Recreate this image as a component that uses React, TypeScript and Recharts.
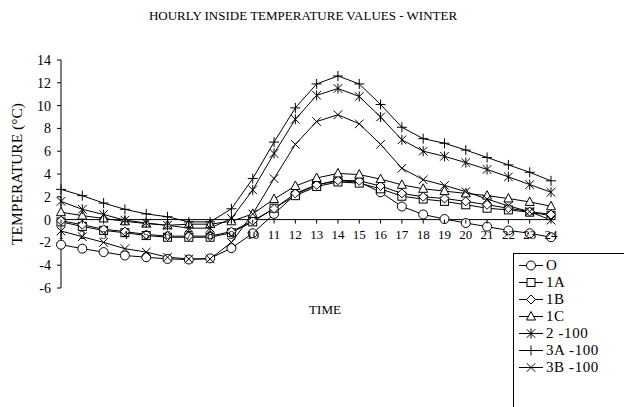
import React from 'react';
import { LineChart, Line, XAxis, YAxis, ReferenceLine, Legend } from 'recharts';

const hours = [1, 2, 3, 4, 5, 6, 7, 8, 9, 10, 11, 12, 13, 14, 15, 16, 17, 18, 19, 20, 21, 22, 23, 24];
const valuesO = [-2.2, -2.55, -2.85, -3.15, -3.3, -3.45, -3.5, -3.4, -2.5, -1.2, 0.5, 2.2, 3.05, 3.4, 3.3, 2.4, 1.15, 0.45, 0.05, -0.3, -0.62, -0.95, -1.2, -1.55];
const values1A = [-0.2, -0.6, -0.95, -1.15, -1.4, -1.55, -1.55, -1.55, -1.15, -0.2, 1.0, 2.1, 2.9, 3.3, 3.2, 2.7, 2.05, 1.8, 1.6, 1.3, 1.0, 0.85, 0.65, 0.35];
const values1B = [-0.1, -0.45, -0.85, -1.05, -1.3, -1.45, -1.45, -1.45, -1.05, -0.1, 0.95, 2.3, 3.05, 3.45, 3.4, 2.95, 2.3, 2.0, 1.85, 1.6, 1.3, 1.0, 0.7, 0.45];
const values1C = [0.65, 0.35, 0.1, -0.15, -0.35, -0.5, -0.4, -0.4, -0.15, 0.5, 1.8, 2.95, 3.65, 4.05, 3.95, 3.55, 3.05, 2.7, 2.5, 2.3, 2.1, 1.85, 1.55, 1.17];
const values2 = [1.6, 0.9, 0.45, -0.05, -0.3, -0.5, -0.75, -0.75, 0.1, 2.6, 5.8, 8.8, 10.9, 11.5, 10.8, 9.0, 7.0, 6.0, 5.55, 5.0, 4.4, 3.75, 3.07, 2.4];
const values3A = [2.65, 2.1, 1.45, 0.9, 0.5, 0.25, -0.2, -0.2, 0.95, 3.6, 6.8, 9.8, 11.9, 12.6, 11.9, 10.1, 8.1, 7.1, 6.7, 6.1, 5.45, 4.8, 4.15, 3.4];
const values3B = [-1.0, -1.5, -2.0, -2.55, -2.85, -3.3, -3.45, -3.45, -2.0, 0.5, 3.6, 6.6, 8.6, 9.2, 8.4, 6.6, 4.5, 3.5, 3.0, 2.45, 1.8, 1.2, 0.7, -0.05];

const seriesNames = ['O', '1A', '1B', '1C', '2 -100', '3A -100', '3B -100'];
const seriesKeys = ['o', 'a1', 'b1', 'c1', 's2', 's3a', 's3b'];
const seriesShapes = ['circle', 'square', 'diamond', 'triangle', 'star', 'plus', 'cross'];
const seriesValues = [valuesO, values1A, values1B, values1C, values2, values3A, values3B];
const yTicks = [-6, -4, -2, 0, 2, 4, 6, 8, 10, 12, 14];

const data = hours.map((h, i) => {
  const row: Record<string, number> = { hour: h };
  seriesKeys.forEach((k, j) => { row[k] = seriesValues[j][i]; });
  return row;
});

const FONT = '"Liberation Serif", "Times New Roman", Times, serif';
const W = 624;
const H = 399;
const MARGIN = { top: 52, right: 81, bottom: 99, left: 0 };
const X_AXIS_H = 20;
const Y_AXIS_W = 53;
const Y_MIN = -6;
const Y_MAX = 14;
const PLOT_H = H - MARGIN.top - MARGIN.bottom - X_AXIS_H;
const ZERO_OFFSET = (PLOT_H * (0 - Y_MIN)) / (Y_MAX - Y_MIN);

function Marker({ shape, cx, cy }: { shape: string; cx: number; cy: number }) {
  const s = { stroke: '#000', strokeWidth: 1, fill: '#fff' };
  const l = { stroke: '#000', strokeWidth: 1, fill: 'none' };
  switch (shape) {
    case 'circle':
      return <circle cx={cx} cy={cy} r={4.5} {...s} />;
    case 'square':
      return <rect x={cx - 4} y={cy - 4} width={8} height={8} {...s} />;
    case 'diamond':
      return <polygon points={`${cx},${cy - 4.5} ${cx + 4.5},${cy} ${cx},${cy + 4.5} ${cx - 4.5},${cy}`} {...s} />;
    case 'triangle':
      return <polygon points={`${cx},${cy - 5} ${cx + 4.5},${cy + 3.5} ${cx - 4.5},${cy + 3.5}`} {...s} />;
    case 'star':
      return (
        <path
          d={`M${cx},${cy - 5}L${cx},${cy + 5}M${cx - 4.3},${cy - 4.3}L${cx + 4.3},${cy + 4.3}M${cx - 4.3},${cy + 4.3}L${cx + 4.3},${cy - 4.3}`}
          {...l}
        />
      );
    case 'plus':
      return <path d={`M${cx - 5},${cy}L${cx + 5},${cy}M${cx},${cy - 5}L${cx},${cy + 5}`} {...l} />;
    case 'cross':
      return <path d={`M${cx - 4.3},${cy - 4.3}L${cx + 4.3},${cy + 4.3}M${cx - 4.3},${cy + 4.3}L${cx + 4.3},${cy - 4.3}`} {...l} />;
    default:
      return null;
  }
}

const makeDot = (shape: string) => (p: any) => (
  <g key={`${shape}-${p.index}`}>
    <Marker shape={shape} cx={p.cx} cy={p.cy} />
  </g>
);

const XTick = (props: any) => {
  const { x, y, payload } = props;
  const zy = y - ZERO_OFFSET;
  return (
    <g>
      <line x1={x} x2={x} y1={zy} y2={zy + 4} stroke="#000" strokeWidth={1} />
      <text x={x} y={zy + 19} textAnchor="middle" fontSize={13} fontFamily={FONT} fill="#000">
        {payload.value}
      </text>
    </g>
  );
};

const LegendBox = () => (
  <div
    style={{
      border: '1px solid #000',
      background: '#fff',
      width: 140,
      height: 170,
      boxSizing: 'border-box',
      paddingTop: 3,
      fontFamily: FONT,
      fontSize: 15,
      color: '#000',
    }}
  >
    {seriesNames.map((name, i) => (
      <div key={name} style={{ display: 'flex', alignItems: 'center', height: 17 }}>
        <svg width={32} height={17} style={{ flex: 'none' }}>
          <line x1={5} x2={29} y1={8.5} y2={8.5} stroke="#000" strokeWidth={1} />
          <Marker shape={seriesShapes[i]} cx={17} cy={8.5} />
        </svg>
        <span style={{ lineHeight: '17px', whiteSpace: 'nowrap', letterSpacing: 0.6 }}>{name}</span>
      </div>
    ))}
  </div>
);

export default function App() {
  return (
    <div style={{ position: 'relative', width: W, height: H, overflow: 'hidden', fontFamily: FONT, color: '#000' }}>
      <LineChart width={W} height={H} data={data} margin={MARGIN}>
        <XAxis
          dataKey="hour"
          height={X_AXIS_H}
          axisLine={false}
          tickLine={false}
          tickSize={0}
          tickMargin={0}
          interval={0}
          tick={<XTick />}
        />
        <YAxis
          domain={[Y_MIN, Y_MAX]}
          ticks={yTicks}
          interval={0}
          width={Y_AXIS_W}
          tickSize={4}
          tickMargin={6}
          axisLine={{ stroke: '#000', strokeWidth: 1 }}
          tickLine={{ stroke: '#000', strokeWidth: 1 }}
          tick={{ fill: '#000', fontSize: 14, fontFamily: FONT }}
        />
        <ReferenceLine y={0} stroke="#000" strokeWidth={1} ifOverflow="visible" />
        {seriesKeys.map((k, i) => (
          <Line
            key={k}
            dataKey={k}
            name={seriesNames[i]}
            stroke="#000"
            strokeWidth={1}
            dot={makeDot(seriesShapes[i])}
            activeDot={false}
            isAnimationActive={false}
          />
        ))}
        <Legend
          layout="vertical"
          align="center"
          verticalAlign="middle"
          content={<LegendBox />}
          wrapperStyle={{ position: 'absolute', left: 505, top: 245, width: 140, height: 170 }}
        />
      </LineChart>
      <div
        style={{
          position: 'absolute',
          left: 295,
          top: 8,
          transform: 'translate(-50%, -50%)',
          fontSize: 13,
          whiteSpace: 'nowrap',
        }}
      >
        HOURLY INSIDE TEMPERATURE VALUES - WINTER
      </div>
      <div
        style={{
          position: 'absolute',
          left: 317,
          top: 302,
          transform: 'translate(-50%, -50%)',
          fontSize: 13,
          whiteSpace: 'nowrap',
        }}
      >
        TIME
      </div>
      <div
        style={{
          position: 'absolute',
          left: 9,
          top: 166,
          transform: 'translate(-50%, -50%) rotate(-90deg)',
          fontSize: 15.5,
          whiteSpace: 'nowrap',
        }}
      >
        TEMPERATURE (°C)
      </div>
    </div>
  );
}
